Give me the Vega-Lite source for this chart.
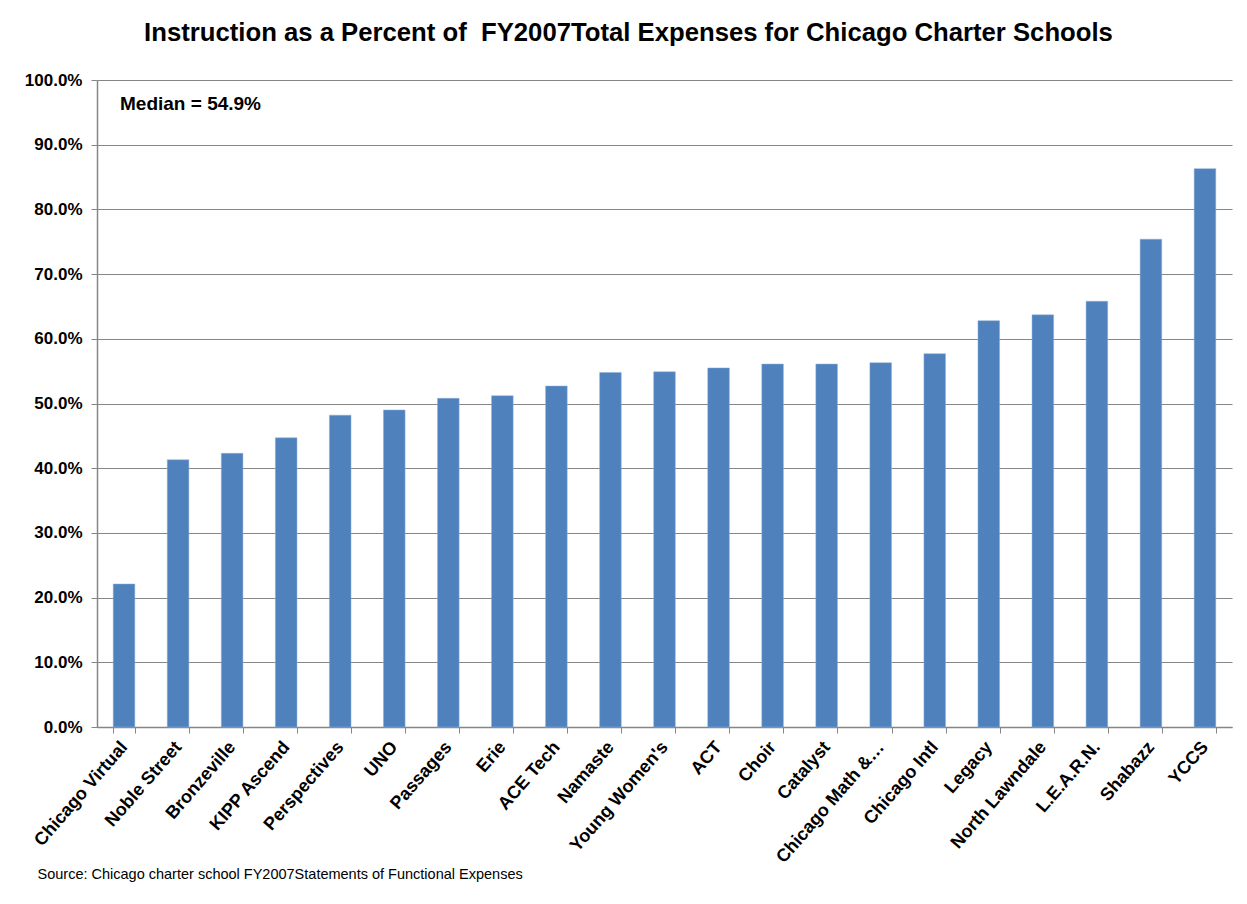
{
  "$schema": "https://vega.github.io/schema/vega-lite/v6.json",
  "width": 1135,
  "height": 647,
  "autosize": "none",
  "padding": {"left": 97, "top": 80, "right": 15, "bottom": 177},
  "background": "white",
  "config": {
    "font": "Liberation Sans",
    "view": {"stroke": null}
  },
  "title": {
    "text": "Instruction as a Percent of\u00a0 FY2007Total Expenses for Chicago Charter Schools",
    "fontSize": 25.7,
    "fontWeight": "bold",
    "font": "Liberation Sans",
    "color": "#000000",
    "anchor": "middle",
    "dx": -36,
    "offset": 24
  },
  "data": {
    "values": [
      {"school": "Chicago Virtual", "pct": 0.221},
      {"school": "Noble Street", "pct": 0.413},
      {"school": "Bronzeville", "pct": 0.423},
      {"school": "KIPP Ascend", "pct": 0.447},
      {"school": "Perspectives", "pct": 0.482},
      {"school": "UNO", "pct": 0.490},
      {"school": "Passages", "pct": 0.508},
      {"school": "Erie", "pct": 0.512},
      {"school": "ACE Tech", "pct": 0.527},
      {"school": "Namaste", "pct": 0.548},
      {"school": "Young Women's", "pct": 0.549},
      {"school": "ACT", "pct": 0.555},
      {"school": "Choir", "pct": 0.561},
      {"school": "Catalyst", "pct": 0.561},
      {"school": "Chicago Math &…", "pct": 0.563},
      {"school": "Chicago Intl", "pct": 0.577},
      {"school": "Legacy", "pct": 0.628},
      {"school": "North Lawndale", "pct": 0.637},
      {"school": "L.E.A.R.N.", "pct": 0.658},
      {"school": "Shabazz", "pct": 0.754},
      {"school": "YCCS", "pct": 0.863}
    ]
  },
  "layer": [
    {
      "mark": {"type": "bar", "color": "#4F81BD", "stroke": "#8FB0D8", "strokeWidth": 0.5},
      "encoding": {
        "x": {
          "field": "school",
          "type": "nominal",
          "sort": null,
          "scale": {"paddingInner": 0.6, "paddingOuter": 0.3},
          "axis": {
            "title": "Source: Chicago charter school FY2007Statements of Functional Expenses",
            "titleFont": "Liberation Sans",
            "titleFontSize": 14.5,
            "titleFontWeight": "normal",
            "titleColor": "#000000",
            "titleAnchor": "start",
            "titleAlign": "left",
            "titleBaseline": "alphabetic",
            "titleX": -60,
            "titleY": 151,
            "labelAngle": -49,
            "labelAlign": "right",
            "labelBaseline": "middle",
            "labelFontSize": 18,
            "labelFontWeight": "bold",
            "labelColor": "#000000",
            "labelPadding": 11,
            "labelOverlap": false,
            "labelLimit": 300,
            "tickBand": "extent",
            "tickColor": "#868686",
            "tickSize": 6,
            "domainColor": "#868686",
            "domainWidth": 1.5
          }
        },
        "y": {
          "field": "pct",
          "type": "quantitative",
          "scale": {"domain": [0, 1], "nice": false},
          "axis": {
            "title": null,
            "format": ".1%",
            "values": [0, 0.1, 0.2, 0.3, 0.4, 0.5, 0.6, 0.7, 0.8, 0.9, 1.0],
            "labelFontSize": 17,
            "labelFontWeight": "bold",
            "labelColor": "#000000",
            "labelPadding": 9,
            "tickColor": "#868686",
            "tickSize": 6,
            "domainColor": "#868686",
            "domainWidth": 1.5,
            "grid": true,
            "gridColor": "#868686",
            "gridWidth": 1.2
          }
        }
      }
    },
    {
      "data": {"values": [{"label": "Median = 54.9%"}]},
      "mark": {
        "type": "text",
        "align": "left",
        "baseline": "middle",
        "fontSize": 19,
        "fontWeight": "bold",
        "color": "#000000",
        "dx": -4
      },
      "encoding": {
        "text": {"field": "label", "type": "nominal"},
        "x": {"datum": "Chicago Virtual", "type": "nominal"},
        "y": {"datum": 0.963, "type": "quantitative"}
      }
    }
  ]
}
